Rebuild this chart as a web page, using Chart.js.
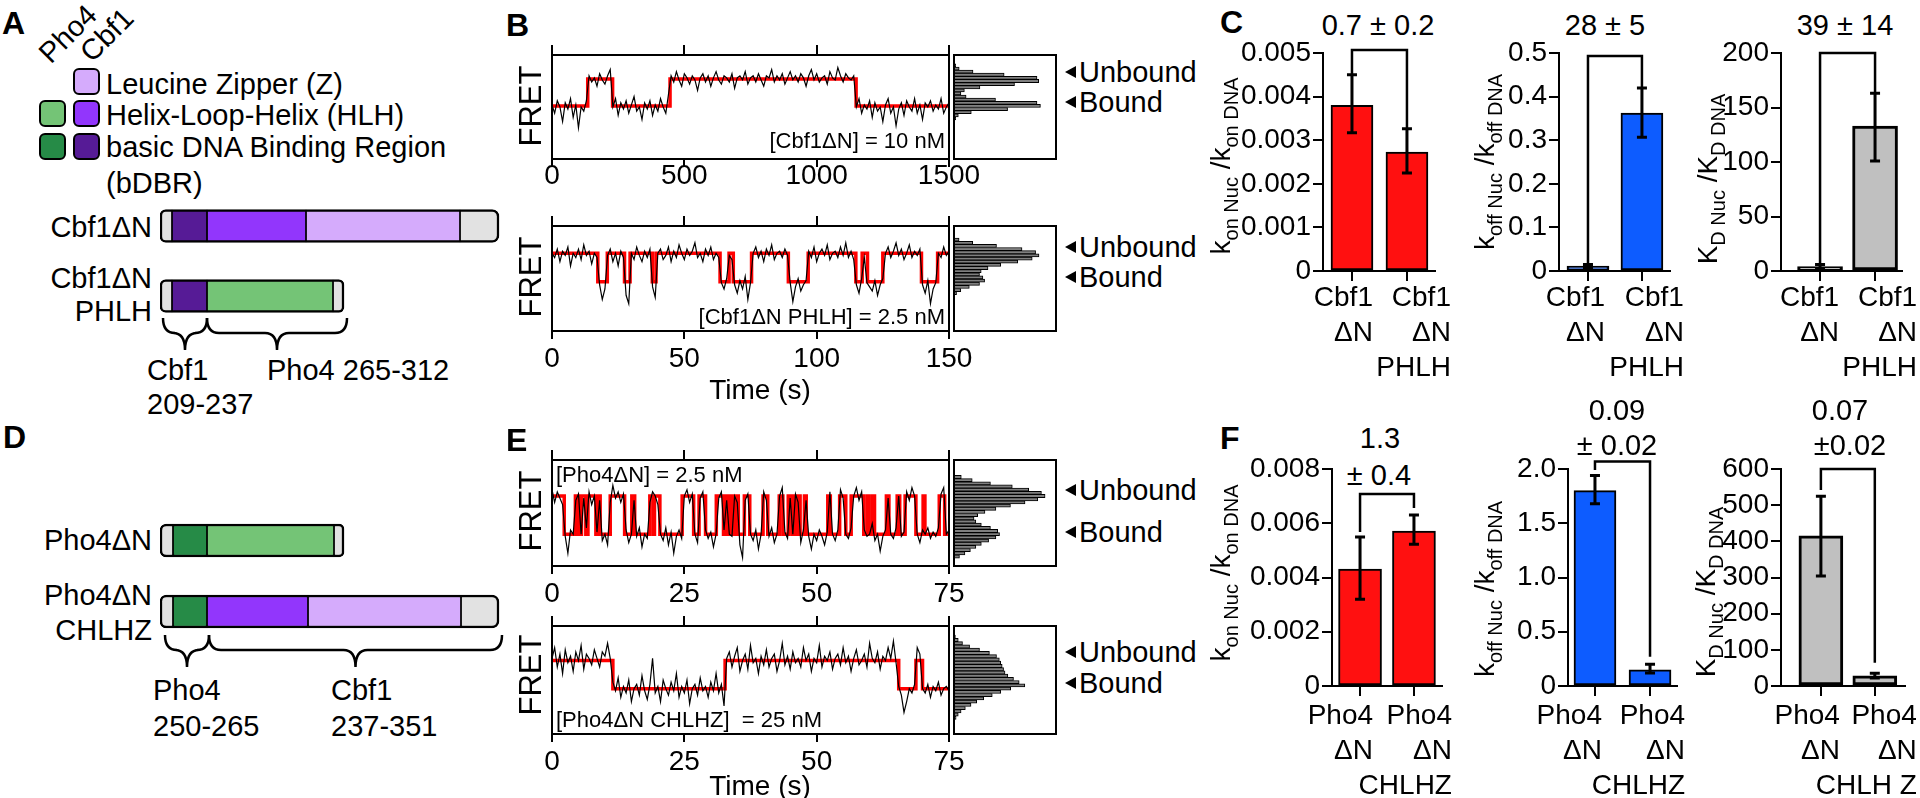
<!DOCTYPE html>
<html>
<head>
<meta charset="utf-8">
<script src="https://cdn.jsdelivr.net/npm/chart.js@4.4.1/dist/chart.umd.min.js"></script>
<style>
html, body { margin: 0; padding: 0; background: #fff; }
body { width: 1920px; height: 798px; position: relative; overflow: hidden; font-family: "Liberation Sans", Arial, sans-serif; color: #000; }
canvas { position: absolute; }
.t { position: absolute; white-space: pre; line-height: 1; font-size: 29px; }
.lbl { font-weight: bold; font-size: 32px; }
.sw { position: absolute; width: 27px; height: 27px; box-sizing: border-box; border: 2.5px solid #000; border-radius: 6px; }
.tri { position: absolute; width: 0; height: 0; border-top: 6px solid transparent; border-bottom: 6px solid transparent; border-right: 11px solid #000; }
</style>
</head>
<body>
<script>
// ---------- data ----------
// A / D domain diagrams (segment widths, schematic units)
const aTypes = [['cap', 'cbfB', 'cbfH', 'cbfZ', 'cap'], ['cap', 'cbfB', 'phoH', 'cap']];
const aLens = [[12, 35, 99, 154, 39], [12, 35, 126, 11]];
const dTypes = [['cap', 'phoB', 'phoH', 'cap'], ['cap', 'phoB', 'cbfH', 'cbfZ', 'cap']];
const dLens = [[13, 34, 127, 10], [13, 34, 101, 153, 38]];
const aBraces = [[3, 47], [47, 187]];
const dBraces = [[5, 49], [49, 342]];

// B: FRET traces
const bTopTrace = [0.52,0.44,0.56,0.50,0.36,0.54,0.48,0.58,0.40,0.52,0.30,0.50,0.46,0.56,
  0.80,0.74,0.78,0.70,0.82,0.76,0.72,0.80,0.86,
  0.50,0.58,0.42,0.54,0.48,0.56,0.44,0.52,0.60,0.46,0.50,0.38,0.54,0.48,0.56,0.42,0.52,0.46,0.58,0.50,0.44,0.62,
  0.80,0.74,0.84,0.76,0.70,0.82,0.78,0.72,0.80,0.76,0.66,0.78,0.82,0.74,0.80,0.70,0.78,0.84,0.76,0.72,
  0.80,0.78,0.74,0.82,0.68,0.78,0.80,0.76,0.84,0.72,0.78,0.80,0.74,0.82,0.76,0.70,0.80,0.78,0.86,0.74,
  0.80,0.76,0.82,0.72,0.78,0.84,0.76,0.80,0.74,0.82,0.78,0.70,0.80,0.86,0.76,0.82,0.74,0.78,0.80,0.72,
  0.84,0.78,0.76,0.88,0.80,0.74,0.82,0.78,0.76,0.80,
  0.50,0.58,0.44,0.52,0.48,0.56,0.40,0.54,0.46,0.50,0.36,0.52,0.58,0.44,0.50,0.32,0.48,0.54,0.42,0.56,
  0.50,0.46,0.58,0.44,0.52,0.38,0.54,0.50,0.56,0.46,0.52,0.48,0.58,0.44,0.50,0.54];
const bTopRedTimes = [0, 135, 229, 446, 1149];
const bTopLevels = [0.51, 0.77];   // [bound, unbound]
const bTopStart = 0;

const bBotTrace = [0.74,0.70,0.78,0.66,0.76,0.72,0.80,0.62,0.74,0.70,0.78,0.68,0.82,0.72,0.76,0.64,0.74,0.70,
  0.44,0.30,0.40,
  0.72,0.78,0.66,0.74,0.62,0.76,0.70,
  0.34,0.26,
  0.74,0.68,0.80,0.72,0.66,0.76,0.70,0.78,
  0.42,0.32,
  0.74,0.78,0.68,0.72,0.80,0.66,0.76,0.70,0.82,0.74,0.68,0.78,0.72,0.76,0.84,0.70,0.74,0.66,0.78,0.72,0.80,0.68,0.74,0.70,
  0.46,0.40,0.50,
  0.72,0.68,
  0.44,0.36,0.48,0.40,0.52,0.30,0.46,
  0.74,0.80,0.70,0.76,0.66,0.78,0.72,0.82,0.68,0.74,0.76,0.70,0.78,0.72,
  0.46,0.28,0.42,0.50,0.38,0.44,0.48,
  0.76,0.70,0.80,0.66,0.74,0.78,0.72,0.82,0.68,0.74,0.76,0.70,0.80,0.72,0.84,0.70,0.76,0.68,
  0.44,0.36,0.50,
  0.70,0.46,
  0.42,0.38,0.48,0.34,0.44,0.50,
  0.74,0.80,0.70,0.76,0.84,0.72,0.78,0.68,0.74,0.82,0.70,0.76,0.72,0.78,
  0.44,0.36,0.48,0.26,0.40,0.46,
  0.74,0.70,0.80,0.72,0.76];
const bBotRedTimes = [0, 17.3, 20.9, 27.4, 29.5, 37.9, 39.3, 63.5, 66.9, 68.5, 75.4, 89.3, 96.8, 114.8, 117.2, 119.2, 125, 139.6, 145.7];
const bBotLevels = [0.47, 0.74];
const bBotStart = 1;

// E: FRET traces
const eTopTrace = [0.72,0.60,0.70,0.64,0.58,0.28,0.12,0.34,0.30,0.62,
  0.68,0.30,0.64,0.36,0.70,0.58,0.66,0.32,0.62,0.24,
  0.30,0.20,0.60,0.76,0.64,0.70,0.60,0.68,0.34,0.22,
  0.30,0.62,0.28,0.36,0.18,0.30,0.26,0.60,0.70,0.66,
  0.58,0.30,0.24,0.36,0.20,0.32,0.12,0.28,0.34,0.26,
  0.66,0.72,0.60,0.68,0.30,0.22,0.64,0.70,0.34,0.26,
  0.32,0.18,0.30,0.64,0.70,0.34,0.62,0.30,0.28,0.66,
  0.60,0.20,0.08,0.62,0.68,0.30,0.24,0.34,0.16,0.30,
  0.70,0.62,0.28,0.36,0.22,0.30,0.66,0.74,0.32,0.26,
  0.64,0.30,0.68,0.60,0.22,0.34,0.62,0.28,0.16,0.30,
  0.24,0.34,0.28,0.20,0.32,0.70,0.30,0.24,0.34,0.72,
  0.64,0.30,0.26,0.36,0.66,0.74,0.62,0.70,0.34,0.28,
  0.30,0.40,0.24,0.30,0.14,0.28,0.34,0.64,0.30,0.26,
  0.36,0.66,0.28,0.32,0.70,0.62,0.74,0.66,0.30,0.22,
  0.34,0.30,0.36,0.26,0.32,0.28,0.36,0.68,0.74,0.30,
  0.34];
const eTopRedTimes = [0, 2.31, 4.42, 5.03, 5.57, 6.39, 6.79, 8.29, 8.63, 9.10, 11.0, 13.72, 15.08, 15.62,
  18.48, 19.16, 19.36, 20.38, 24.59, 26.76, 27.78, 29.01, 31.04, 32.40, 32.74, 33.15, 33.56, 33.97,
  34.24, 34.51, 34.78, 35.19, 36.34, 37.36, 39.87, 40.76, 42.93, 43.61, 44.63, 45.31, 45.65, 46.06,
  46.33, 46.87, 47.69, 48.03, 52.10, 52.58, 54.34, 55.50, 56.52, 58.90, 59.58, 59.92, 60.59, 60.93,
  63.17, 63.65, 65.21, 65.69, 66.71, 68.75, 70.11, 70.45, 73.16, 74.18];
const eTopLevels = [0.30, 0.66];
const eTopStart = 1;

const eBotTrace = [0.70,0.80,0.62,0.74,0.56,0.78,0.66,0.72,0.58,0.76,0.68,0.82,0.60,0.74,0.70,0.64,0.78,0.70,0.62,0.76,0.72,0.84,0.70,
  0.48,0.40,0.52,0.34,0.44,0.38,0.50,0.30,0.42,0.46,0.36,0.54,0.40,0.32,0.46,0.70,0.38,0.44,0.30,0.50,
  0.42,0.36,0.48,0.40,0.56,0.34,0.44,0.38,0.50,0.28,0.42,0.46,0.36,0.52,0.40,0.44,0.34,0.48,0.40,0.56,0.38,0.46,0.26,
  0.70,0.76,0.62,0.72,0.80,0.58,0.68,0.74,0.60,0.82,0.66,0.70,0.56,0.72,0.64,0.78,0.62,0.70,0.74,0.58,
  0.68,0.84,0.64,0.72,0.60,0.76,0.66,0.70,0.62,0.80,0.68,0.74,0.58,0.70,0.66,0.82,0.62,0.72,0.68,0.76,
  0.60,0.70,0.74,0.64,0.80,0.66,0.72,0.58,0.70,0.78,0.64,0.68,0.74,0.62,0.84,0.70,0.66,0.76,0.60,0.72,
  0.68,0.80,0.70,0.86,0.66,
  0.44,0.36,0.20,0.30,0.42,0.38,0.46,
  0.80,0.74,
  0.42,0.38,0.46,0.34,0.44,0.40,0.48,0.36,0.42,0.44,0.40];
const eBotRedTimes = [0, 11.5, 32.7, 65.5, 68.75, 70];
const eBotLevels = [0.42, 0.68];
const eBotStart = 1;

// FRET histograms (bin centre, count)
const bTopHistBins = [0.39,0.42,0.45,0.48,0.51,0.54,0.57,0.60,0.63,0.66,0.69,0.72,0.75,0.78,0.81,0.84,0.87,0.90];
const bTopHistCounts = [2,5,20,62,100,96,48,14,8,12,30,70,98,96,58,22,6,2];
const bBotHistBins = [0.36,0.39,0.42,0.45,0.48,0.51,0.54,0.57,0.60,0.63,0.66,0.69,0.72,0.75,0.78,0.81,0.84,0.87];
const bBotHistCounts = [3,8,18,30,36,34,30,32,40,55,75,92,100,96,80,50,22,6];
const eTopHistBins = [0.09,0.12,0.15,0.18,0.21,0.24,0.27,0.30,0.33,0.36,0.39,0.42,0.45,0.48,0.51,0.54,0.57,0.60,0.63,0.66,0.69,0.72,0.75,0.78,0.81,0.84];
const eTopHistCounts = [6,12,18,24,30,38,46,50,48,40,30,24,22,26,34,46,62,78,92,100,96,82,64,40,20,8];
const eBotHistBins = [0.15,0.18,0.21,0.24,0.27,0.30,0.33,0.36,0.39,0.42,0.45,0.48,0.51,0.54,0.57,0.60,0.63,0.66,0.69,0.72,0.75,0.78,0.81,0.84,0.87,0.90];
const eBotHistCounts = [3,6,10,16,24,32,42,54,66,80,100,92,84,76,72,70,68,66,64,60,50,36,22,12,6,2];

// C / F: rate ratios
const cLabels = [['Cbf1', 'ΔN'], ['Cbf1', 'ΔN', 'PHLH']];
const fLabels = [['Pho4', 'ΔN'], ['Pho4', 'ΔN', 'CHLHZ']];
const f3Labels = [['Pho4', 'ΔN'], ['Pho4', 'ΔN', 'CHLH Z']];

const c1Values = [0.0038, 0.00273], c1Lo = [0.00317, 0.00225], c1Hi = [0.0045, 0.00326];
const c2Values = [0.011, 0.362], c2Lo = [0.008, 0.307], c2Hi = [0.015, 0.42];
const c3Values = [4, 133], c3Lo = [2, 101], c3Hi = [6, 163];
const f1Values = [0.00431, 0.00571], f1Lo = [0.0032, 0.00523], f1Hi = [0.00549, 0.0063];
const f2Values = [1.80, 0.15], f2Lo = [1.68, 0.12], f2Hi = [1.94, 0.20];
const f3Values = [415, 28], f3Lo = [304, 22], f3Hi = [525, 35];

// ---------- helpers ----------
const FONT = '"Liberation Sans", Arial, sans-serif';
Chart.defaults.font.family = FONT;
Chart.defaults.color = '#000';
Chart.defaults.animation = false;
Chart.defaults.responsive = false;
Chart.defaults.events = [];
Chart.defaults.plugins.legend.display = false;
Chart.defaults.plugins.tooltip.enabled = false;

function mkCanvas(x, y, w, h) {
  const c = document.createElement('canvas');
  c.width = w; c.height = h;
  c.style.left = x + 'px'; c.style.top = y + 'px';
  c.style.width = w + 'px'; c.style.height = h + 'px';
  document.body.appendChild(c);
  return c;
}

function txt(s, x, y, o = {}) {
  const d = document.createElement('div');
  d.className = 't' + (o.cls ? ' ' + o.cls : '');
  d.textContent = s;
  d.style.left = x + 'px';
  d.style.top = y + 'px';
  if (o.size) d.style.fontSize = o.size + 'px';
  const tx = o.align === 'right' ? '-100%' : o.align === 'center' ? '-50%' : '0';
  d.style.transform = `translate(${tx},-50%)` + (o.rot ? ` rotate(${o.rot}deg)` : '');
  document.body.appendChild(d);
}

function swatch(x, y, col) {
  const d = document.createElement('div');
  d.className = 'sw';
  d.style.left = x + 'px'; d.style.top = y + 'px'; d.style.background = col;
  document.body.appendChild(d);
}

function arrowLabel(s, y) {
  const d = document.createElement('div');
  d.className = 'tri';
  d.style.left = '1065px'; d.style.top = (y - 6) + 'px';
  document.body.appendChild(d);
  txt(s, 1079, y);
}

const sum = a => a.reduce((p, v) => p + v, 0);

const framePlugin = {
  id: 'frame',
  afterDraw(ch) {
    const { ctx, chartArea: a } = ch;
    ctx.save();
    ctx.strokeStyle = '#000';
    ctx.lineWidth = 2;
    ctx.strokeRect(a.left, a.top, a.right - a.left, a.bottom - a.top);
    ctx.restore();
  }
};

// ---------- A / D diagrams ----------
const segColors = { cap: '#e2e2e2', cbfB: '#561b96', cbfH: '#9236fc', cbfZ: '#d5abfc', phoB: '#268b47', phoH: '#74c476' };

function diagram(top, gap, types, lens, braces, braceY) {
  const left = 160, w = 340, pt = 10, pb = 50;
  const cTop = top - pt;
  const c = mkCanvas(left - 10, cTop, w + 20, gap * 2 + pt + pb);
  const n = Math.max(...lens.map(l => l.length));
  const datasets = [];
  for (let k = 0; k < n; k++) {
    datasets.push({
      data: lens.map(l => k < l.length ? [sum(l.slice(0, k)), sum(l.slice(0, k + 1))] : null),
      backgroundColor: types.map(t => segColors[t[k]] || 'rgba(0,0,0,0)'),
      borderColor: '#000',
      borderWidth: ctx => {
        const last = lens[ctx.dataIndex].length - 1;
        return { top: 2.5, bottom: 2.5, left: k === 0 ? 2.5 : 1.2, right: k === last ? 2.5 : 1.2 };
      },
      borderRadius: ctx => {
        const last = lens[ctx.dataIndex].length - 1;
        const l = k === 0 ? 7 : 0, r = k === last ? 7 : 0;
        return { topLeft: l, bottomLeft: l, topRight: r, bottomRight: r };
      },
      borderSkipped: false,
      barThickness: 33,
      grouped: false
    });
  }
  const bracePlugin = {
    id: 'braces',
    afterDraw(ch) {
      const { ctx, scales: { x } } = ch;
      const y0 = braceY - cTop, y1 = y0 + 15, y2 = y0 + 32, r = 12;
      ctx.save();
      ctx.strokeStyle = '#000';
      ctx.lineWidth = 2.5;
      braces.forEach(([a, b]) => {
        const xa = x.getPixelForValue(a), xb = x.getPixelForValue(b), xm = (xa + xb) / 2;
        ctx.beginPath();
        ctx.moveTo(xa, y0);
        ctx.quadraticCurveTo(xa, y1, xa + r, y1);
        ctx.lineTo(xm - r, y1);
        ctx.quadraticCurveTo(xm, y1, xm, y2);
        ctx.quadraticCurveTo(xm, y1, xm + r, y1);
        ctx.lineTo(xb - r, y1);
        ctx.quadraticCurveTo(xb, y1, xb, y0);
        ctx.stroke();
      });
      ctx.restore();
    }
  };
  new Chart(c, {
    type: 'bar',
    data: { labels: ['r0', 'r1'], datasets },
    options: {
      indexAxis: 'y',
      layout: { padding: { left: 10, right: 10, top: pt, bottom: pb } },
      scales: {
        x: { type: 'linear', display: false, min: 0, max: w },
        y: { display: false }
      }
    },
    plugins: [bracePlugin]
  });
}

// ---------- B / E traces ----------
function traceChart(box, xMax, xStep, trace, redTimes, levels, start, labelPad) {
  const padL = 50, padR = 50, topH = 20, botH = 50;
  const c = mkCanvas(box.x - padL, box.y - topH, box.w + padL + padR, box.h + topH + botH);
  const dt = xMax / (trace.length - 1);
  const pts = trace.map((v, i) => ({ x: i * dt, y: v }));
  const red = redTimes.map((t, i) => ({ x: t, y: levels[(start + i) % 2] }));
  red.push({ x: xMax, y: red[red.length - 1].y });
  const tickGrid = len => ({ display: true, drawOnChartArea: false, drawTicks: true, tickLength: len, lineWidth: 2, color: '#000' });
  new Chart(c, {
    type: 'line',
    data: {
      datasets: [
        { data: pts, borderColor: '#000', borderWidth: 1.2, pointRadius: 0, tension: 0 },
        { data: red, borderColor: '#ff0000', borderWidth: 3.5, pointRadius: 0, stepped: 'before' }
      ]
    },
    options: {
      layout: { padding: { left: padL, right: padR, top: 0, bottom: 0 } },
      scales: {
        x: {
          type: 'linear', position: 'bottom', min: 0, max: xMax, offset: false,
          afterFit: s => { s.height = botH; },
          ticks: { stepSize: xStep, callback: v => String(v), font: { size: 28, lineHeight: 1 }, padding: labelPad, maxRotation: 0, autoSkip: false },
          grid: tickGrid(8), border: { display: false }
        },
        x2: {
          type: 'linear', position: 'top', min: 0, max: xMax, offset: false,
          afterFit: s => { s.height = topH; },
          ticks: { stepSize: xStep, display: false },
          grid: tickGrid(10), border: { display: false }
        },
        y: { display: false, min: 0, max: 1 }
      }
    },
    plugins: [framePlugin]
  });
}

function histChart(box, bins, counts, xMax) {
  const c = mkCanvas(box.x - 2, box.y - 2, box.w + 4, box.h + 4);
  new Chart(c, {
    type: 'bar',
    data: {
      datasets: [{
        data: bins.map((b, i) => ({ x: counts[i], y: b })),
        backgroundColor: '#7f7f7f', borderColor: '#000', borderWidth: 1, borderSkipped: false,
        barPercentage: 1, categoryPercentage: 1
      }]
    },
    options: {
      indexAxis: 'y',
      layout: { padding: 2 },
      scales: {
        x: { type: 'linear', display: false, min: 0, max: xMax },
        y: { type: 'linear', display: false, min: 0, max: 1, offset: false }
      }
    },
    plugins: [framePlugin]
  });
}

// ---------- C / F bar charts ----------
function barChart(area, o) {
  const yW = 140, topP = 45, botH = 125, rP = 30, tickH = 10;
  const cx = area.l - yW, cy = area.t - topP;
  const c = mkCanvas(cx, cy, yW + (area.r - area.l) + rP, topP + (area.b - area.t) + botH);
  const ppu = (area.r - area.l) / (o.xMax - o.xMin);
  const extras = {
    id: 'barExtras',
    afterDatasetsDraw(ch) {
      const { ctx, scales: { x, y } } = ch;
      ctx.save();
      ctx.strokeStyle = '#000';
      ctx.lineWidth = 3;
      o.lo.forEach((lo, i) => {
        const px = x.getPixelForValue(i + 1), a = y.getPixelForValue(lo), b = y.getPixelForValue(o.hi[i]);
        ctx.beginPath();
        ctx.moveTo(px, a); ctx.lineTo(px, b);
        ctx.moveTo(px - 5, a); ctx.lineTo(px + 5, a);
        ctx.moveTo(px - 5, b); ctx.lineTo(px + 5, b);
        ctx.stroke();
      });
      const xa = x.getPixelForValue(1), xb = x.getPixelForValue(2), yt = y.getPixelForValue(o.brTop);
      ctx.lineWidth = 2.5;
      ctx.beginPath();
      ctx.moveTo(xa, y.getPixelForValue(o.brLegs[0]));
      ctx.lineTo(xa, yt); ctx.lineTo(xb, yt);
      ctx.lineTo(xb, y.getPixelForValue(o.brLegs[1]));
      ctx.stroke();
      // rotated y title with subscripts
      ctx.translate(o.titleX - cx, o.titleY - cy);
      ctx.rotate(-Math.PI / 2);
      ctx.fillStyle = '#000';
      ctx.textBaseline = 'alphabetic';
      let total = 0;
      o.title.forEach(p => { ctx.font = p[1] + 'px ' + FONT; total += ctx.measureText(p[0]).width; });
      let cur = -total / 2;
      o.title.forEach(p => {
        ctx.font = p[1] + 'px ' + FONT;
        ctx.fillText(p[0], cur, p[2] ? 8 : 0);
        cur += ctx.measureText(p[0]).width;
      });
      ctx.restore();
    }
  };
  const axisGrid = { display: true, drawOnChartArea: false, drawTicks: true, tickLength: tickH, lineWidth: 2, color: '#000', offset: false };
  new Chart(c, {
    type: 'bar',
    data: {
      datasets: [{
        data: o.values.map((v, i) => ({ x: i + 1, y: v })),
        backgroundColor: o.color, borderColor: '#000', borderWidth: o.bw, borderSkipped: false,
        barThickness: o.thick
      }]
    },
    options: {
      layout: { padding: { left: 0, right: rP, top: topP, bottom: 0 } },
      scales: {
        x: {
          type: 'linear', min: o.xMin, max: o.xMax, offset: false, bounds: 'data', weight: 0,
          afterFit: s => { s.height = tickH; },
          afterBuildTicks: s => { s.ticks = [{ value: 1 }, { value: 2 }]; },
          ticks: { display: false },
          grid: axisGrid, border: { color: '#000', width: 2 }
        },
        xl: {
          type: 'linear', position: 'bottom', axis: 'x', min: o.xMin, max: o.xMax, offset: false, bounds: 'data', weight: 1,
          afterFit: s => { s.height = botH - tickH; },
          afterBuildTicks: s => { s.ticks = o.shift.map((d, i) => ({ value: i + 1 + d / ppu })); },
          ticks: { callback: (v, i) => o.labels[i], align: 'end', font: { size: 28, lineHeight: 1.25 }, padding: o.xPad, maxRotation: 0, autoSkip: false },
          grid: { display: false, drawTicks: false, tickLength: 0 }, border: { display: false }
        },
        y: {
          min: 0, max: o.yMax,
          afterFit: s => { s.width = yW; },
          ticks: { stepSize: o.yStep, callback: o.fmt, font: { size: 28 }, padding: 2, autoSkip: false },
          grid: axisGrid, border: { color: '#000', width: 2 }
        }
      }
    },
    plugins: [extras]
  });
}

// ---------- build ----------
// Panel A
txt('A', 2, 23, { cls: 'lbl' });
txt('Pho4', 68, 34, { align: 'center', rot: -45 });
txt('Cbf1', 107, 35, { align: 'center', rot: -45 });
swatch(73, 68, segColors.cbfZ);
swatch(39, 100, segColors.phoH);
swatch(73, 100, segColors.cbfH);
swatch(39, 133, segColors.phoB);
swatch(73, 133, segColors.cbfB);
txt('Leucine Zipper (Z)', 106, 84);
txt('Helix-Loop-Helix (HLH)', 106, 115);
txt('basic DNA Binding Region', 106, 147);
txt('(bDBR)', 106, 183);
txt('Cbf1ΔN', 152, 227, { align: 'right' });
txt('Cbf1ΔN', 152, 278, { align: 'right' });
txt('PHLH', 152, 311, { align: 'right' });
txt('Cbf1', 147, 370);
txt('209-237', 147, 404);
txt('Pho4 265-312', 267, 370);
diagram(191, 70, aTypes, aLens, aBraces, 318);

// Panel D
txt('D', 3, 437, { cls: 'lbl' });
txt('Pho4ΔN', 152, 540, { align: 'right' });
txt('Pho4ΔN', 152, 595, { align: 'right' });
txt('CHLHZ', 152, 630, { align: 'right' });
txt('Pho4', 153, 690);
txt('250-265', 153, 726);
txt('Cbf1', 331, 690);
txt('237-351', 331, 726);
diagram(505, 71, dTypes, dLens, dBraces, 635);

// Panel B
const bTopBox = { x: 552, y: 55, w: 397, h: 104 };
const bBotBox = { x: 552, y: 226, w: 397, h: 105 };
const eTopBox = { x: 552, y: 460, w: 397, h: 106 };
const eBotBox = { x: 552, y: 626, w: 397, h: 108 };
const hx = 954, hw = 102;

txt('B', 506, 25, { cls: 'lbl' });
traceChart(bTopBox, 1500, 500, bTopTrace, bTopRedTimes, bTopLevels, bTopStart, -5);
traceChart(bBotBox, 150, 50, bBotTrace, bBotRedTimes, bBotLevels, bBotStart, 6);
histChart({ x: hx, y: bTopBox.y, w: hw, h: bTopBox.h }, bTopHistBins, bTopHistCounts, 118);
histChart({ x: hx, y: bBotBox.y, w: hw, h: bBotBox.h }, bBotHistBins, bBotHistCounts, 120);
txt('FRET', 530, 106, { align: 'center', rot: -90, size: 31 });
txt('FRET', 530, 277, { align: 'center', rot: -90, size: 31 });
txt('[Cbf1ΔN] = 10 nM', 945, 141, { align: 'right', size: 22 });
txt('[Cbf1ΔN PHLH] = 2.5 nM', 945, 317, { align: 'right', size: 22 });
txt('Time (s)', 760, 390, { align: 'center', size: 28 });
arrowLabel('Unbound', 72);
arrowLabel('Bound', 102);
arrowLabel('Unbound', 247);
arrowLabel('Bound', 277);

// Panel E
txt('E', 506, 440, { cls: 'lbl' });
traceChart(eTopBox, 75, 25, eTopTrace, eTopRedTimes, eTopLevels, eTopStart, 6);
traceChart(eBotBox, 75, 25, eBotTrace, eBotRedTimes, eBotLevels, eBotStart, 6);
histChart({ x: hx, y: eTopBox.y, w: hw, h: eTopBox.h }, eTopHistBins, eTopHistCounts, 112);
histChart({ x: hx, y: eBotBox.y, w: hw, h: eBotBox.h }, eBotHistBins, eBotHistCounts, 144);
txt('FRET', 530, 511, { align: 'center', rot: -90, size: 31 });
txt('FRET', 530, 675, { align: 'center', rot: -90, size: 31 });
txt('[Pho4ΔN] = 2.5 nM', 556, 475, { size: 22 });
txt('[Pho4ΔN CHLHZ]  = 25 nM', 556, 720, { size: 22 });
txt('Time (s)', 760, 786, { align: 'center', size: 28 });
arrowLabel('Unbound', 490);
arrowLabel('Bound', 532);
arrowLabel('Unbound', 652);
arrowLabel('Bound', 683);

// Panel C
const kOn = [['k', 28, 0], ['on Nuc', 20, 1], [' /k', 28, 0], ['on DNA', 20, 1]];
const kOff = [['k', 28, 0], ['off Nuc', 20, 1], [' /k', 28, 0], ['off DNA', 20, 1]];
const kD = [['K', 28, 0], ['D Nuc', 20, 1], [' /K', 28, 0], ['D DNA', 20, 1]];
const fmt3 = v => v === 0 ? '0' : v.toFixed(3);
const fmt1 = v => v === 0 ? '0' : v.toFixed(1);
const fmt0 = v => String(Math.round(v));

txt('C', 1220, 22, { cls: 'lbl' });
txt('0.7 ± 0.2', 1378, 25, { align: 'center' });
txt('28 ± 5', 1605, 25, { align: 'center' });
txt('39 ± 14', 1845, 25, { align: 'center' });
barChart({ l: 1323, r: 1435, t: 53, b: 271 }, {
  values: c1Values, lo: c1Lo, hi: c1Hi, yMax: 0.005, yStep: 0.001, fmt: fmt3,
  color: '#ff1010', bw: 2, thick: 42, xMin: 0.473, xMax: 2.51, labels: cLabels, shift: [21, 44], xPad: 0,
  brTop: 0.00507, brLegs: [0.0045, 0.00326], title: kOn, titleX: 1230, titleY: 166
});
barChart({ l: 1559, r: 1670, t: 53, b: 271 }, {
  values: c2Values, lo: c2Lo, hi: c2Hi, yMax: 0.5, yStep: 0.1, fmt: fmt1,
  color: '#0d5cff', bw: 2, thick: 42, xMin: 0.463, xMax: 2.52, labels: cLabels, shift: [17, 42], xPad: 0,
  brTop: 0.493, brLegs: [0.018, 0.42], title: kOff, titleX: 1494, titleY: 162
});
barChart({ l: 1781, r: 1902, t: 53, b: 271 }, {
  values: c3Values, lo: c3Lo, hi: c3Hi, yMax: 200, yStep: 50, fmt: fmt0,
  color: '#c0c0c0', bw: 3, thick: 45, xMin: 0.29, xMax: 2.49, labels: cLabels, shift: [19, 42], xPad: 0,
  brTop: 200, brLegs: [6, 163], title: kD, titleX: 1717, titleY: 179
});

// Panel F
txt('F', 1220, 438, { cls: 'lbl' });
txt('1.3', 1380, 438, { align: 'center' });
txt('± 0.4', 1379, 475, { align: 'center' });
txt('0.09', 1617, 410, { align: 'center' });
txt('± 0.02', 1617, 445, { align: 'center' });
txt('0.07', 1840, 410, { align: 'center' });
txt('±0.02', 1850, 445, { align: 'center' });
barChart({ l: 1332, r: 1442, t: 469, b: 686 }, {
  values: f1Values, lo: f1Lo, hi: f1Hi, yMax: 0.008, yStep: 0.002, fmt: fmt3,
  color: '#ff1010', bw: 2, thick: 43, xMin: 0.48, xMax: 2.52, labels: fLabels, shift: [13, 38], xPad: 3,
  brTop: 0.00708, brLegs: [0.00568, 0.00656], title: kOn, titleX: 1230, titleY: 573
});
barChart({ l: 1568, r: 1677, t: 469, b: 686 }, {
  values: f2Values, lo: f2Lo, hi: f2Hi, yMax: 2, yStep: 0.5, fmt: fmt1,
  color: '#0d5cff', bw: 2, thick: 42, xMin: 0.51, xMax: 2.49, labels: fLabels, shift: [7, 35], xPad: 3,
  brTop: 2.07, brLegs: [1.99, 0.27], title: kOff, titleX: 1494, titleY: 589
});
barChart({ l: 1781, r: 1905, t: 469, b: 686 }, {
  values: f3Values, lo: f3Lo, hi: f3Hi, yMax: 600, yStep: 100, fmt: fmt0,
  color: '#c0c0c0', bw: 3, thick: 44, xMin: 0.26, xMax: 2.56, labels: f3Labels, shift: [19, 42], xPad: 3,
  brTop: 600, brLegs: [542, 64], title: kD, titleX: 1715, titleY: 592
});
</script>
</body>
</html>
